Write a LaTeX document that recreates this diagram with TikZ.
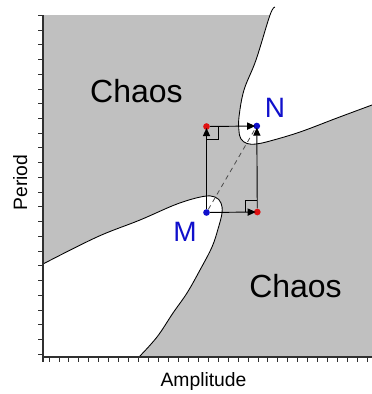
\documentclass[tikz,border=0pt]{standalone}
\usepackage{fontspec}
\setmainfont{Liberation Sans}
\usepackage{tikz}
\usetikzlibrary{arrows.meta,calc}
\definecolor{ChaosGray}{HTML}{C0C0C0}
\definecolor{PtBlue}{HTML}{1010CC}
\definecolor{PtRed}{HTML}{E01010}
\definecolor{AxisDark}{HTML}{303030}
\tikzset{
  boundary/.style={draw=black,line width=0.65pt},
  axisline/.style={draw=AxisDark,line width=0.9pt},
  tickline/.style={draw=AxisDark,line width=0.6pt},
  bluedot/.style={circle,fill=PtBlue,inner sep=0pt,minimum size=5pt},
  reddot/.style={circle,fill=PtRed,inner sep=0pt,minimum size=5pt},
  steparrow/.style={-{Triangle[length=6pt,width=5.4pt]},line width=0.7pt,draw=black,shorten >=-1.5pt},
  diagline/.style={dash pattern=on 3.5pt off 3pt,line width=0.6pt,draw=black!70},
  rightmark/.style={line width=0.6pt,draw=black},
  ptlabel/.style={text=PtBlue,font=\fontsize{21}{21}\selectfont},
  regionlabel/.style={font=\fontsize{24}{24}\selectfont},
  axislabel/.style={font=\fontsize{14.5}{14.5}\selectfont}
}
\def\uppercurve{(275,7) (270,15) (256,60) (244,90) (239,117) (239,131) (241,139) (247,143.5) (256,144) (270,141) (300,132) (337,118) (372,105)}
\def\lowercurve{(43,264) (97,237) (140,220) (177,204) (203,196.5) (215,197) (221,203) (222,213) (218,229) (212,247) (200,270) (187,293) (173,313) (157,337) (139,357)}

\begin{document}
\begin{tikzpicture}[x=0.75pt,y=-0.75pt]
\useasboundingbox (0,0) rectangle (372,394);
% regions
\fill[ChaosGray] (43,15) rectangle (372,357);
\begin{scope}
\clip (43,15) rectangle (372,357);
\fill[white] plot[smooth,tension=0.6] coordinates {\uppercurve} -- (372,0) -- cycle;
\fill[white] plot[smooth,tension=0.6] coordinates {\lowercurve} -- (43,357) -- cycle;
\end{scope}
\draw[boundary] plot[smooth,tension=0.6] coordinates {\uppercurve};
\draw[boundary] plot[smooth,tension=0.6] coordinates {\lowercurve};
% axes
\draw[axisline] (43,15)--(43,362);
\draw[axisline] (43,357)--(372,357);
\foreach \i in {0,...,23}{\draw[tickline] (43,{15.3+14.73*\i})--++(-5,0);}
\foreach \i in {0,...,32}{\draw[tickline] ({49+9.95*\i},357)--++(0,5);}
% points
\node[bluedot] (M) at (206.5,212.5) {};
\node[bluedot] (N) at (256.8,126) {};
\node[reddot] (P) at (206.5,126.5) {};
\node[reddot] (Q) at (257.3,212) {};
\draw[steparrow] (M)--(P);
\draw[steparrow] (P)--(N);
\draw[steparrow] (M)--(Q);
\draw[steparrow] (Q)--(N);
\draw[diagline] (M)--(N);
\draw[rightmark] ($(P)+(12,0)$) |- ($(P)+(0,12.5)$);
\draw[rightmark] ($(Q)+(-12,0)$) |- ($(Q)+(0,-12)$);
% labels
\node[ptlabel] (Nlabel) at (275,108) {N};
\node[ptlabel] (Mlabel) at (185,232) {M};
\node[regionlabel] (chaosA) at (136.5,91) {Chaos};
\node[regionlabel] (chaosB) at (295.5,286.5) {Chaos};
\node[axislabel,anchor=base] (xlabel) at (203.5,386) {Amplitude};
\node[axislabel,anchor=base,rotate=90] (ylabel) at (27,182.5) {Period};
\end{tikzpicture}
\end{document}
